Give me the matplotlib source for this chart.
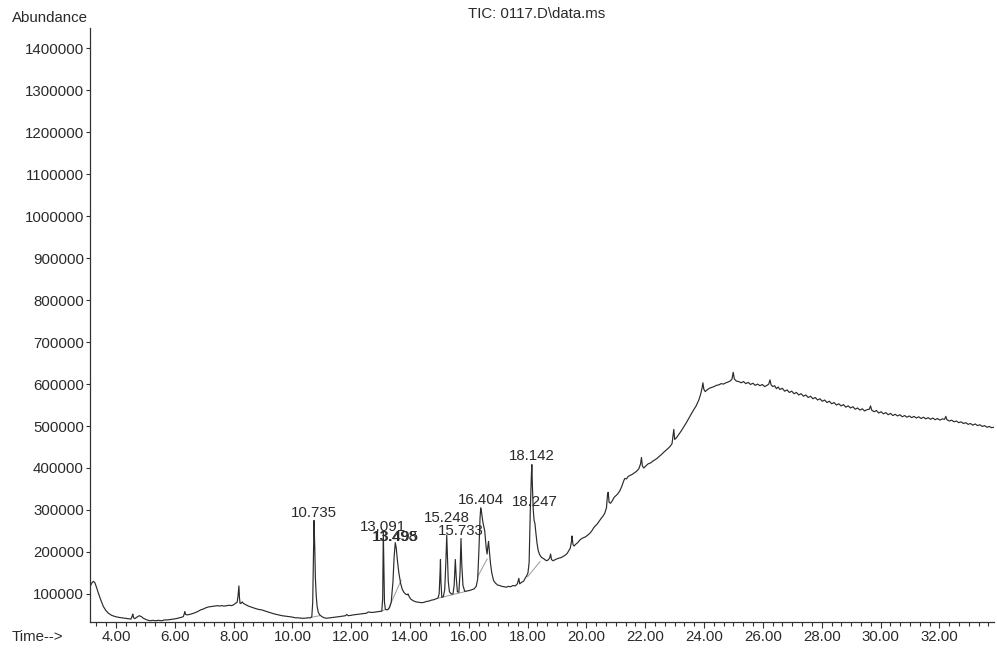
import matplotlib
matplotlib.use("Agg")
import matplotlib.pyplot as plt
from matplotlib.ticker import MultipleLocator

# ---------------- data ----------------
# (retention time [min], abundance) pairs, split by region
trace_early = [
    (3.12, 118000), (3.18, 126000), (3.23, 130000), (3.28, 127000), (3.34, 115000),
    (3.40, 102000), (3.47, 88000), (3.57, 70000), (3.65, 61000), (3.74, 54000),
    (3.85, 49000), (3.97, 46000), (4.10, 44000), (4.20, 43000), (4.31, 42000),
    (4.42, 41000), (4.51, 40000), (4.55, 47000), (4.57, 52000), (4.60, 43000),
    (4.64, 41000), (4.72, 45000), (4.79, 48000), (4.86, 46000), (4.93, 42000),
    (5.02, 39000), (5.10, 37000), (5.16, 36000), (5.25, 37000), (5.35, 36000),
    (5.45, 37000), (5.55, 36000), (5.65, 38000), (5.75, 38000), (5.85, 39000),
    (5.95, 40000), (6.05, 41000), (6.15, 43000), (6.22, 44000), (6.29, 46000),
    (6.32, 52000), (6.34, 58000), (6.37, 51000), (6.42, 50000), (6.50, 51000),
    (6.60, 53000), (6.68, 55000), (6.78, 58000), (6.88, 62000), (6.97, 64000),
    (7.06, 67000), (7.15, 69000), (7.25, 70000), (7.35, 71000), (7.45, 72000),
    (7.52, 71000), (7.59, 72000), (7.68, 71000), (7.78, 72000), (7.86, 73000),
    (7.93, 72000), (8.00, 74000), (8.07, 78000), (8.12, 80000), (8.15, 95000),
    (8.18, 119000), (8.20, 90000), (8.22, 77000), (8.26, 78000), (8.29, 81000),
    (8.34, 77000), (8.42, 74000), (8.50, 71000), (8.62, 68000), (8.75, 65000),
    (8.85, 63000), (8.95, 62000), (9.08, 59000), (9.20, 56000), (9.30, 54000),
    (9.40, 52000), (9.52, 50000), (9.65, 48000), (9.76, 47000), (9.86, 46000),
    (9.98, 45000), (10.10, 43000), (10.20, 43000), (10.31, 42000), (10.42, 42000),
    (10.52, 43000), (10.62, 43000),
]

trace_peaks = [
    (10.66, 46000), (10.69, 80000), (10.71, 160000), (10.735, 275000), (10.76, 210000),
    (10.78, 140000), (10.81, 95000), (10.84, 70000), (10.88, 56000), (10.93, 50000),
    (11.00, 46000), (11.08, 43000), (11.16, 42000), (11.28, 43000), (11.40, 44000),
    (11.52, 45000), (11.61, 46000), (11.70, 47000), (11.80, 48000), (11.85, 51000),
    (11.90, 48000), (12.00, 49000), (12.07, 50000), (12.18, 51000), (12.30, 52000),
    (12.40, 53000), (12.52, 54000), (12.58, 57000), (12.66, 56000), (12.75, 56000),
    (12.85, 57000), (12.97, 58000), (13.04, 59000), (13.07, 90000), (13.091, 250000),
    (13.11, 160000), (13.13, 80000), (13.16, 64000), (13.20, 62000), (13.25, 63000),
    (13.30, 67000), (13.36, 80000), (13.42, 130000), (13.46, 190000), (13.498, 222000),
    (13.53, 210000), (13.57, 180000), (13.62, 150000), (13.68, 125000), (13.74, 110000),
    (13.80, 103000), (13.86, 99000), (13.91, 98000), (13.93, 100000), (13.96, 95000),
    (14.02, 88000), (14.10, 84000), (14.20, 81000), (14.30, 80000), (14.40, 79000),
    (14.48, 80000), (14.56, 82000), (14.65, 83000), (14.72, 85000), (14.80, 86000),
    (14.88, 88000), (14.95, 90000), (14.99, 100000), (15.02, 150000), (15.035, 182000),
    (15.05, 130000), (15.08, 92000), (15.13, 93000), (15.18, 110000), (15.22, 180000),
    (15.248, 240000), (15.27, 190000), (15.30, 130000), (15.34, 105000), (15.40, 100000),
    (15.46, 100000), (15.50, 120000), (15.54, 182000), (15.57, 140000), (15.61, 105000),
    (15.66, 104000), (15.70, 150000), (15.733, 232000), (15.76, 170000), (15.80, 120000),
    (15.86, 106000), (15.94, 107000), (16.02, 108000), (16.10, 110000), (16.18, 112000),
    (16.25, 118000), (16.30, 135000), (16.34, 200000), (16.38, 280000), (16.404, 305000),
    (16.43, 295000), (16.48, 270000), (16.54, 250000), (16.59, 210000), (16.62, 195000),
    (16.65, 215000), (16.67, 225000), (16.70, 200000), (16.74, 170000), (16.78, 150000),
    (16.84, 132000), (16.90, 126000), (16.98, 121000), (17.05, 120000), (17.12, 118000),
    (17.20, 117000), (17.28, 116000), (17.35, 118000), (17.42, 117000), (17.50, 120000),
    (17.58, 119000), (17.65, 124000), (17.70, 137000), (17.73, 124000), (17.80, 128000),
    (17.86, 130000), (17.92, 138000), (17.96, 142000), (18.01, 150000), (18.05, 175000),
    (18.09, 300000), (18.125, 380000), (18.142, 408000), (18.16, 360000), (18.19, 300000),
    (18.22, 275000), (18.247, 268000), (18.28, 245000), (18.32, 220000), (18.36, 203000),
    (18.41, 193000), (18.47, 187000), (18.52, 185000), (18.58, 182000), (18.64, 179000),
    (18.70, 181000), (18.75, 186000), (18.78, 195000), (18.81, 182000), (18.86, 179000),
    (18.92, 181000), (18.98, 183000),
]

trace_rise = [
    (19.05, 185000), (19.12, 186000), (19.20, 189000), (19.27, 192000), (19.34, 196000),
    (19.40, 203000), (19.45, 209000), (19.49, 225000), (19.51, 238000), (19.54, 218000),
    (19.58, 214000), (19.63, 218000), (19.70, 222000), (19.77, 228000), (19.84, 232000),
    (19.90, 234000), (19.97, 236000), (20.04, 240000), (20.11, 244000), (20.18, 250000),
    (20.25, 258000), (20.30, 262000), (20.36, 266000), (20.42, 272000), (20.50, 280000),
    (20.56, 285000), (20.62, 292000), (20.68, 305000), (20.72, 340000), (20.74, 342000),
    (20.77, 318000), (20.82, 316000), (20.88, 322000), (20.94, 330000), (21.00, 334000),
    (21.06, 338000), (21.13, 345000), (21.20, 356000), (21.26, 368000), (21.30, 375000),
    (21.36, 374000), (21.42, 380000), (21.50, 383000), (21.56, 385000), (21.62, 388000),
    (21.70, 392000), (21.78, 398000), (21.84, 410000), (21.87, 425000), (21.90, 405000),
    (21.95, 400000), (22.02, 405000), (22.10, 410000), (22.18, 412000), (22.25, 416000),
    (22.32, 419000), (22.40, 423000), (22.48, 428000), (22.55, 432000), (22.62, 437000),
    (22.70, 442000), (22.78, 447000), (22.85, 452000), (22.91, 458000), (22.94, 475000),
    (22.97, 492000), (23.00, 468000), (23.06, 472000), (23.14, 480000), (23.22, 488000),
    (23.30, 497000), (23.38, 506000), (23.46, 516000), (23.55, 527000), (23.64, 538000),
    (23.73, 548000), (23.82, 562000), (23.88, 575000), (23.93, 590000), (23.96, 603000),
    (23.99, 588000), (24.04, 582000), (24.10, 586000), (24.18, 590000), (24.26, 592000),
    (24.34, 594000), (24.42, 597000), (24.50, 598000), (24.58, 601000), (24.66, 600000),
    (24.74, 603000), (24.82, 605000), (24.90, 608000), (24.95, 612000), (24.99, 628000),
    (25.03, 612000), (25.10, 607000), (25.18, 606000),
]

trace_late = [
    (25.26, 603000), (25.34, 606000), (25.42, 601000), (25.50, 604000), (25.58, 599000),
    (25.66, 602000), (25.74, 597000), (25.82, 600000), (25.90, 596000), (25.98, 599000),
    (26.06, 594000), (26.14, 597000), (26.20, 600000), (26.24, 610000), (26.28, 598000),
    (26.34, 594000), (26.40, 596000), (26.46, 589000), (26.52, 593000), (26.58, 587000),
    (26.66, 590000), (26.74, 583000), (26.82, 586000), (26.90, 580000), (26.98, 583000),
    (27.06, 577000), (27.14, 580000), (27.22, 574000), (27.30, 577000), (27.38, 571000),
    (27.46, 574000), (27.54, 568000), (27.62, 571000), (27.70, 565000), (27.78, 568000),
    (27.86, 562000), (27.94, 565000), (28.02, 559000), (28.10, 562000), (28.18, 556000),
    (28.26, 559000), (28.34, 553000), (28.42, 556000), (28.50, 550000), (28.58, 553000),
    (28.66, 548000), (28.74, 551000), (28.82, 545000), (28.90, 548000), (28.98, 543000),
    (29.06, 546000), (29.14, 540000), (29.22, 543000), (29.30, 538000), (29.38, 541000),
    (29.46, 536000), (29.54, 539000), (29.62, 540000), (29.66, 548000), (29.70, 538000),
    (29.78, 534000), (29.86, 537000), (29.94, 531000), (30.02, 534000), (30.10, 529000),
    (30.18, 532000), (30.26, 527000), (30.34, 530000), (30.42, 525000), (30.50, 528000),
    (30.58, 524000), (30.66, 527000), (30.74, 522000), (30.82, 525000), (30.90, 521000),
    (30.98, 524000), (31.06, 520000), (31.14, 523000), (31.22, 519000), (31.30, 522000),
    (31.38, 518000), (31.46, 521000), (31.54, 517000), (31.62, 520000), (31.70, 516000),
    (31.78, 519000), (31.86, 515000), (31.94, 518000), (32.02, 514000), (32.10, 517000),
    (32.18, 516000), (32.22, 523000), (32.26, 515000), (32.34, 512000), (32.42, 514000),
    (32.50, 510000), (32.58, 512000), (32.66, 508000), (32.74, 510000), (32.82, 506000),
    (32.90, 508000), (32.98, 504000), (33.06, 506000), (33.14, 502000), (33.22, 505000),
    (33.30, 501000), (33.38, 503000), (33.46, 499000), (33.54, 501000), (33.62, 497000),
    (33.70, 499000), (33.78, 496000), (33.84, 497000),
]

# integration baselines drawn under the labelled peaks: (t0, a0, t1, a1)
baselines = [
    (10.64, 44000, 10.92, 48000),
    (13.03, 59000, 13.17, 63000),
    (13.25, 62000, 13.70, 133000),
    (14.97, 90000, 15.90, 106000),
    (16.30, 141000, 16.62, 183000),
    (18.00, 141000, 18.42, 177000),
]

# peak labels: text, retention time, label height (abundance)
peak_labels = ["10.735", "13.091", "13.498", "13.495", "15.248", "15.733", "16.404", "18.142", "18.247"]
peak_label_rt = [10.735, 13.091, 13.498, 13.504, 15.248, 15.733, 16.404, 18.142, 18.247]
peak_label_abund = [293000, 260000, 236000, 236500, 281000, 251000, 324000, 429000, 320000]

ytick_values = [100000, 200000, 300000, 400000, 500000, 600000, 700000,
                800000, 900000, 1000000, 1100000, 1200000, 1300000, 1400000]
xtick_values = [4, 6, 8, 10, 12, 14, 16, 18, 20, 22, 24, 26, 28, 30, 32]
xtick_labels = ["4.00", "6.00", "8.00", "10.00", "12.00", "14.00", "16.00", "18.00",
                "20.00", "22.00", "24.00", "26.00", "28.00", "30.00", "32.00"]

title_text = "TIC: 0117.D\\data.ms"

# ---------------- drawing ----------------
plt.rcParams['font.family'] = ['Liberation Sans', 'DejaVu Sans']
TXT = '#2a2a2a'
FS = 10.8

fig = plt.figure(figsize=(9.97, 6.56), dpi=100)
fig.patch.set_facecolor('white')
ax = fig.add_axes([0.0903, 0.0518, 0.907, 0.905])

trace = trace_early + trace_peaks + trace_rise + trace_late
t = [p[0] for p in trace]
a = [p[1] for p in trace]

for (t0, a0, t1, a1) in baselines:
    ax.plot([t0, t1], [a0, a1], color='#9a9a9a', lw=0.7, zorder=1)
ax.plot(t, a, color='#2b2b2b', lw=0.85, zorder=2)

for lab, rt, ya in zip(peak_labels, peak_label_rt, peak_label_abund):
    ax.text(rt, ya, lab, ha='center', va='center', fontsize=FS, color=TXT, zorder=3)

ax.set_xlim(3.117, 33.87)
ax.set_ylim(33000, 1447600)
ax.set_yticks(ytick_values)
ax.set_yticklabels([str(v) for v in ytick_values])
ax.set_xticks(xtick_values)
ax.set_xticklabels(xtick_labels)
ax.xaxis.set_minor_locator(MultipleLocator(1/3))

for s in ('top', 'right'):
    ax.spines[s].set_visible(False)
for s in ('left', 'bottom'):
    ax.spines[s].set_color('#333333')
    ax.spines[s].set_linewidth(0.9)

ax.tick_params(axis='x', which='major', direction='out', length=4.5, width=0.8,
               labelsize=FS, pad=1.5, colors='#333333', labelcolor=TXT)
ax.tick_params(axis='x', which='minor', direction='out', length=2.8, width=0.8, colors='#333333')
ax.tick_params(axis='y', which='major', direction='out', length=3, width=0.8,
               labelsize=FS, pad=1.5, colors='#333333', labelcolor=TXT)

fig.text(12/997, 1 - 18/656, 'Abundance', ha='left', va='center', fontsize=FS, color=TXT)
fig.text(537/997, 1 - 14/656, title_text, ha='center', va='center', fontsize=FS, color=TXT)
fig.text(12/997, 1 - 637/656, 'Time-->', ha='left', va='center', fontsize=FS, color=TXT)

fig.savefig('out.png', dpi=100, facecolor='white')
